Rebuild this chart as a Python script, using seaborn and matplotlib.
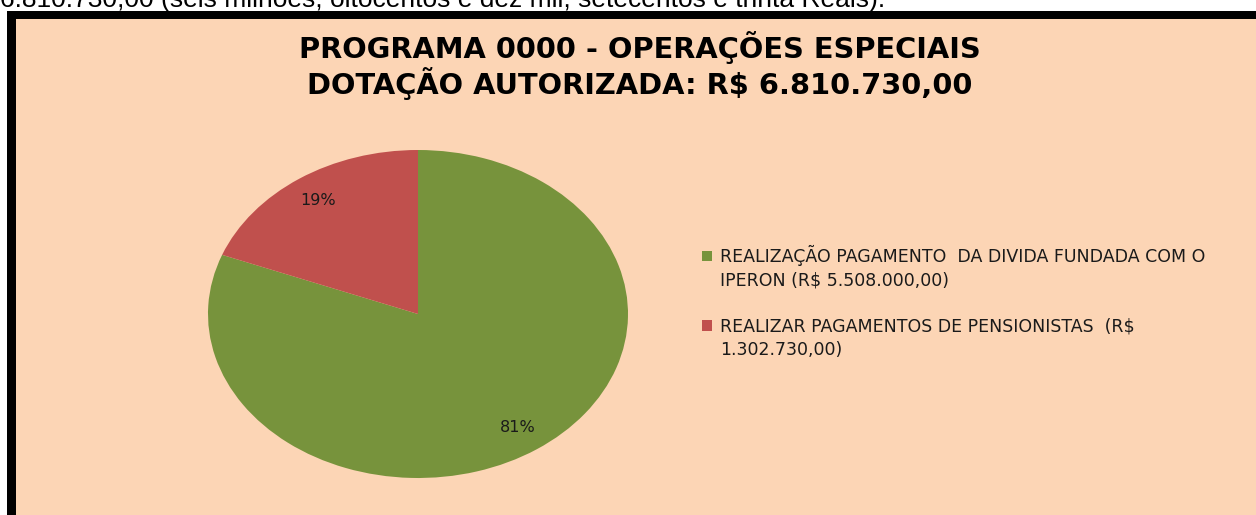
import matplotlib
matplotlib.use("Agg")
import matplotlib.pyplot as plt
from matplotlib.patches import Rectangle
import seaborn as sns

# chart data
header = "6.810.730,00 (seis milhões, oitocentos e dez mil, setecentos e trinta Reais)."
title_lines = ["PROGRAMA 0000 - OPERAÇÕES ESPECIAIS",
               "DOTAÇÃO AUTORIZADA: R$ 6.810.730,00"]
categories = [["REALIZAÇÃO PAGAMENTO  DA DIVIDA FUNDADA COM O", "IPERON (R$ 5.508.000,00)"],
              ["REALIZAR PAGAMENTOS DE PENSIONISTAS  (R$", "1.302.730,00)"]]
values = [5508000.00, 1302730.00]
colors = ["#77933C", "#C0504D"]
bg = "#FCD5B5"

sns.set_theme(style="white")
plt.rcParams['font.family'] = ['DejaVu Sans']

W, H = 1256, 515
fig = plt.figure(figsize=(W / 100, H / 100), dpi=100)
fig.patch.set_facecolor("white")


def px(x, y):
    # pixel coords (top-left origin) -> figure fraction
    return x / W, 1 - y / H


# frame: black border top/left, peach fill
fig.patches.append(Rectangle(px(7, 515), 1260 / W, (515 - 11) / H, transform=fig.transFigure,
                             facecolor="black", edgecolor="none", zorder=-2))
fig.patches.append(Rectangle(px(16, 515), 1250 / W, (515 - 19) / H, transform=fig.transFigure,
                             facecolor=bg, edgecolor="none", zorder=-1))

# cut-off line of text above the chart
fig.text(*px(0, 7), header, family="Liberation Sans", fontsize=19, color="black",
         ha="left", va="baseline")

# title
fig.text(*px(640, 48), title_lines[0], fontsize=20.8, fontweight="bold", color="black",
         ha="center", va="center")
fig.text(*px(640, 83), title_lines[1], fontsize=20.8, fontweight="bold", color="black",
         ha="center", va="center")

# pie (stretched into an ellipse like the original)
l, b = px(208, 478)
ax = fig.add_axes([l, b, 420 / W, 328 / H])
wedges, texts, autotexts = ax.pie(values, colors=colors, startangle=90, counterclock=False,
                                  autopct="%1.0f%%", pctdistance=0.84, radius=1,
                                  wedgeprops=dict(linewidth=0),
                                  textprops=dict(fontsize=11.5, color="#1a1a1a"))
ax.set_aspect("auto")
ax.set_xlim(-1, 1)
ax.set_ylim(-1, 1)
ax.axis("off")

# legend: coloured square next to the first line of each wrapped label
blank = Rectangle((0, 0), 1, 1, alpha=0)
handles, labels = [], []
for i, (w, lines) in enumerate(zip(wedges, categories)):
    if i > 0:
        handles.append(blank)
        labels.append(" ")
    handles.append(w)
    labels.append(lines[0])
    for extra in lines[1:]:
        handles.append(blank)
        labels.append(extra)

leg = fig.legend(handles, labels, loc="upper left", bbox_to_anchor=px(702, 245),
                 frameon=False, fontsize=12.5, handlelength=0.58, handleheight=0.58,
                 handletextpad=0.45, labelspacing=0.3, borderpad=0, borderaxespad=0)
for t in leg.get_texts():
    t.set_color("#1a1a1a")

fig.savefig("out.png", dpi=100, facecolor=fig.get_facecolor())
